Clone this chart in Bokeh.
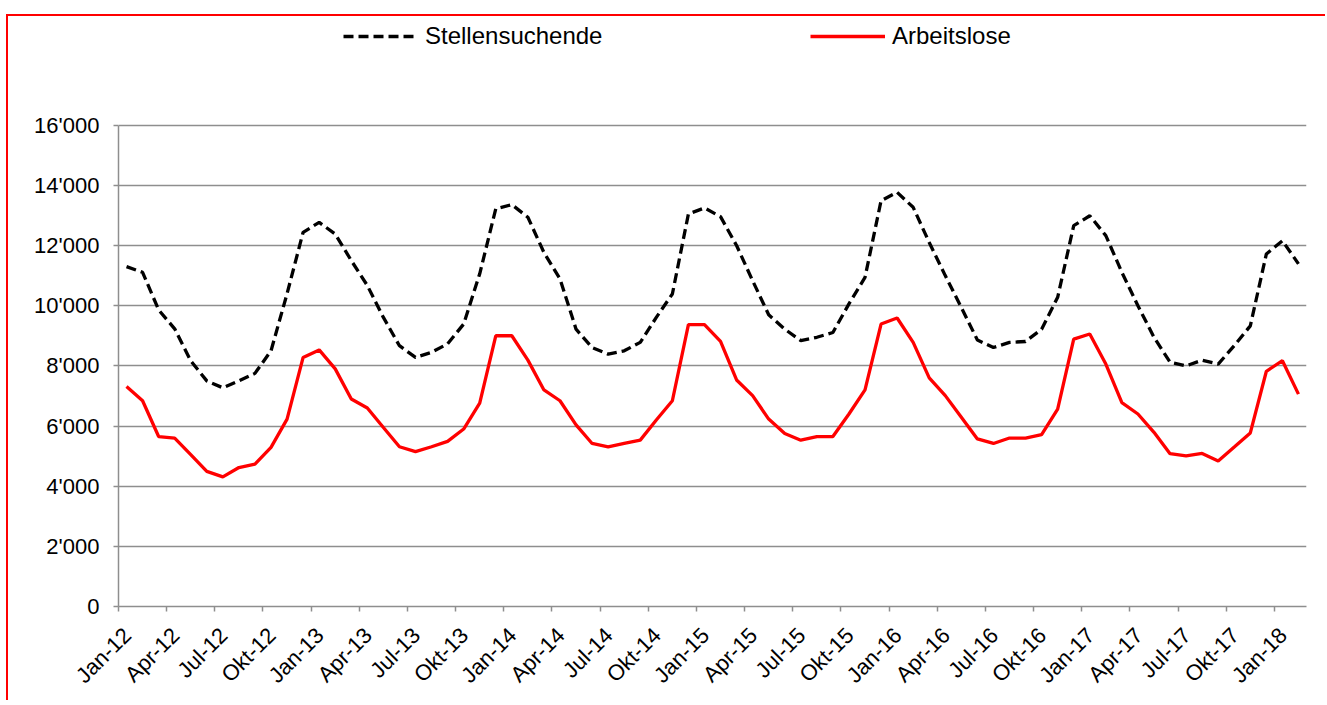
from math import pi
from bokeh.plotting import figure
from bokeh.models import Range1d, FixedTicker, LinearAxis, Legend, LegendItem
from bokeh.embed import file_html
from bokeh.resources import INLINE

# ---- data (Jan-12 .. Feb-18, monthly) ----
x_tick_labels = ["Jan-12", "Apr-12", "Jul-12", "Okt-12", "Jan-13", "Apr-13", "Jul-13", "Okt-13",
                 "Jan-14", "Apr-14", "Jul-14", "Okt-14", "Jan-15", "Apr-15", "Jul-15", "Okt-15",
                 "Jan-16", "Apr-16", "Jul-16", "Okt-16", "Jan-17", "Apr-17", "Jul-17", "Okt-17",
                 "Jan-18"]

stellensuchende = [11300, 11110, 9860, 9230, 8170, 7500, 7270, 7500, 7750, 8500, 10400, 12440,
                   12770, 12380, 11500, 10670, 9610, 8670, 8280, 8450, 8730, 9390, 11060, 13220,
                   13360, 12940, 11770, 10890, 9220, 8610, 8390, 8500, 8780, 9610, 10390, 13050,
                   13250, 12960, 12000, 10830, 9700, 9220, 8840, 8950, 9110, 10060, 10940, 13490,
                   13770, 13270, 12100, 11000, 9940, 8860, 8610, 8780, 8810, 9220, 10280, 12660,
                   12990, 12330, 11110, 10000, 8950, 8120, 8000, 8190, 8060, 8670, 9330, 11720,
                   12160, 11390]

arbeitslose = [7310, 6840, 5650, 5600, 5050, 4490, 4310, 4620, 4730, 5290, 6230, 8280,
               8530, 7900, 6900, 6600, 5950, 5310, 5150, 5310, 5490, 5900, 6760, 9000,
               9000, 8190, 7200, 6840, 6040, 5420, 5310, 5420, 5530, 6200, 6840, 9370,
               9370, 8810, 7530, 7010, 6230, 5750, 5530, 5650, 5650, 6400, 7200, 9390,
               9590, 8780, 7600, 7010, 6290, 5570, 5420, 5600, 5600, 5710, 6560, 8890,
               9060, 8060, 6780, 6400, 5790, 5080, 5010, 5090, 4840, 5300, 5770, 7820,
               8170, 7060]

y_ticks = [0, 2000, 4000, 6000, 8000, 10000, 12000, 14000, 16000]
y_tick_labels = ["0", "2'000", "4'000", "6'000", "8'000", "10'000", "12'000", "14'000", "16'000"]

n = len(stellensuchende)
xs = [i + 0.5 for i in range(n)]
tick_pos = [3 * k for k in range(len(x_tick_labels))]

# ---- geometry ----
W, H = 1319, 686
FONT = "Liberation Sans"
GRAY = "#8e8e8e"
frame_top_px, frame_bottom_px, y16_px = 20, 606, 124.7
y_end = 16000 * (frame_bottom_px - frame_top_px) / (frame_bottom_px - y16_px)

p = figure(width=W, height=H, output_backend="svg", toolbar_location=None,
           x_range=Range1d(0, n), y_range=Range1d(0, y_end),
           min_border_left=110, min_border_right=21, min_border_top=4, min_border_bottom=96)
p.styles = {"border-top": "2px solid #ff0000", "border-left": "2px solid #ff0000",
            "margin-top": "14px", "margin-left": "6px"}
p.outline_line_color = None
p.background_fill_color = "white"
p.border_fill_color = "white"

# grid
p.xgrid.visible = False
p.ygrid.ticker = FixedTicker(ticks=y_ticks)
p.ygrid.grid_line_color = GRAY
p.ygrid.grid_line_width = 1.5

# y axis
ya = p.yaxis[0]
ya.ticker = FixedTicker(ticks=y_ticks)
ya.major_label_overrides = {t: l for t, l in zip(y_ticks, y_tick_labels)}
ya.bounds = (0, 16000)
ya.axis_line_color = GRAY
ya.axis_line_width = 1.5
ya.major_tick_line_color = GRAY
ya.major_tick_line_width = 1.5
ya.major_tick_out = 5
ya.major_tick_in = 0
ya.minor_tick_line_color = None
ya.major_label_standoff = 14
ya.major_label_text_font = FONT
ya.major_label_text_font_size = "22px"
ya.major_label_text_color = "black"

# x axis: ticks only
xa = p.xaxis[0]
xa.ticker = FixedTicker(ticks=tick_pos)
xa.major_label_overrides = {t: "" for t in tick_pos}
xa.major_label_text_font_size = "1px"
xa.major_label_standoff = 0
xa.axis_line_color = GRAY
xa.axis_line_width = 1.5
xa.major_tick_line_color = GRAY
xa.major_tick_line_width = 1.5
xa.major_tick_out = 5
xa.major_tick_in = 0
xa.minor_tick_line_color = None

# x axis: labels only
lab_pos = [t + 0.55 for t in tick_pos]
xl = LinearAxis(ticker=FixedTicker(ticks=lab_pos),
                major_label_overrides={t: l for t, l in zip(lab_pos, x_tick_labels)},
                axis_line_color=None, major_tick_line_color=None, minor_tick_line_color=None,
                major_tick_out=0, major_tick_in=0, major_label_standoff=20,
                major_label_orientation=pi / 4, major_label_text_font=FONT,
                major_label_text_font_size="22px", major_label_text_color="black")
p.add_layout(xl, "below")

# lines
r1 = p.line(xs, stellensuchende, line_color="black", line_width=3.3, line_dash="10 5")
r2 = p.line(xs, arbeitslose, line_color="#ff0000", line_width=3.3)

for item, vx in ((LegendItem(label="Stellensuchende", renderers=[r1]), 225),
                 (LegendItem(label="Arbeitslose", renderers=[r2]), 692)):
    lg = Legend(items=[item], location=(vx, 556), orientation="horizontal",
                padding=0, margin=0, spacing=0, glyph_width=75, glyph_height=24,
                label_height=24, label_standoff=7, border_line_color=None,
                background_fill_alpha=0, label_text_font=FONT,
                label_text_font_size="24px", label_text_color="black")
    p.add_layout(lg, "center")

open("out.html", "w").write(file_html(p, INLINE))
